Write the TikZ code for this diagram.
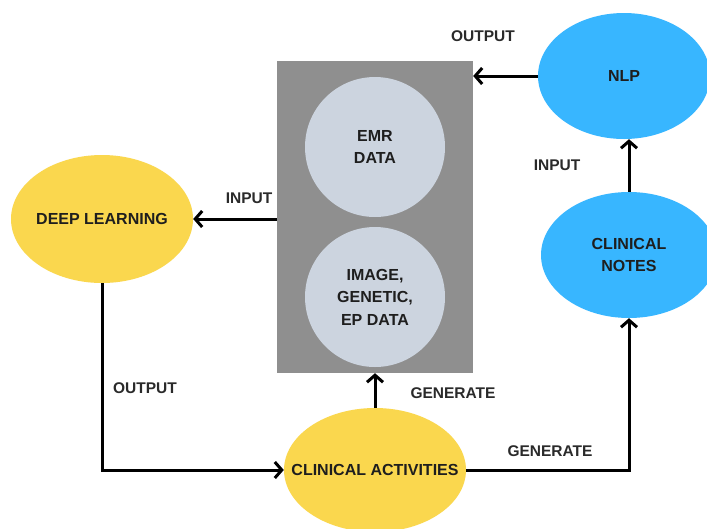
\documentclass[tikz,border=0pt]{standalone}
\usepackage{fontspec}
\setmainfont{Liberation Sans}
\usetikzlibrary{shapes.geometric,arrows.meta}
\definecolor{sunyellow}{HTML}{FAD74E}
\definecolor{skyblue}{HTML}{38B6FF}
\definecolor{boxgray}{HTML}{8F8F8F}
\definecolor{datafill}{HTML}{CCD4DF}
\definecolor{inktext}{HTML}{1E1E1E}
\definecolor{labeltext}{HTML}{2A2A2A}
\begin{document}
\begin{tikzpicture}[x=1pt,y=-1pt,
  txt/.style={font=\fontsize{16}{22.5}\selectfont\bfseries, text=inktext, align=center, inner sep=0pt},
  yellownode/.style={ellipse, fill=sunyellow, draw=none, inner sep=0pt},
  bluenode/.style={ellipse, fill=skyblue, draw=none, inner sep=0pt},
  datanode/.style={circle, fill=datafill, draw=none, inner sep=0pt},
  inside/.style={label={[txt]center:#1}},
  edgelabel/.style={font=\fontsize{15.5}{18}\selectfont\bfseries, text=labeltext, inner sep=0pt},
  arr/.style={line width=3pt, draw=black, -{Straight Barb[length=7pt,width=16pt,line width=3pt]}}
]
\useasboundingbox[fill=white] (0,0) rectangle (707,528);

% central data store
\node[fill=boxgray, minimum width=196pt, minimum height=312pt, inner sep=0pt] (store) at (375,217) {};
\node[datanode, minimum size=140pt, inside={EMR\\DATA}] (emr) at (375,147) {};
\node[datanode, minimum size=140pt, inside={IMAGE,\\GENETIC,\\EP DATA}] (img) at (375,297) {};

% processing and sources
\node[yellownode, minimum width=182pt, minimum height=128pt, inside={DEEP LEARNING}] (dl) at (102,219) {};
\node[yellownode, minimum width=182pt, minimum height=124pt, inside={CLINICAL ACTIVITIES}] (ca) at (375,470) {};
\node[bluenode, minimum width=172pt, minimum height=126pt, inside={NLP}] (nlp) at (624,76) {};
\node[bluenode, minimum width=176pt, minimum height=126pt, inside={CLINICAL\\NOTES}] (notes) at (629,255) {};

% connectors
\draw[arr] (nlp.west) -- (nlp.west -| store.east);
\draw[arr] (notes.north) -- (notes.north |- nlp.south);
\draw[arr] (store.west |- dl.east) -- (dl.east);
\draw[arr] (dl.south) |- (ca.west);
\draw[arr] (ca.north) -- (store.south);
\draw[arr] (ca.east) -| (notes.south);

% connector labels
\node[edgelabel] (lout1) at (483,36) {OUTPUT};
\node[edgelabel] (lin1) at (557,165) {INPUT};
\node[edgelabel] (lin2) at (249,198) {INPUT};
\node[edgelabel] (lout2) at (145,388) {OUTPUT};
\node[edgelabel] (lgen1) at (453,393) {GENERATE};
\node[edgelabel] (lgen2) at (550,451) {GENERATE};
\end{tikzpicture}
\end{document}
